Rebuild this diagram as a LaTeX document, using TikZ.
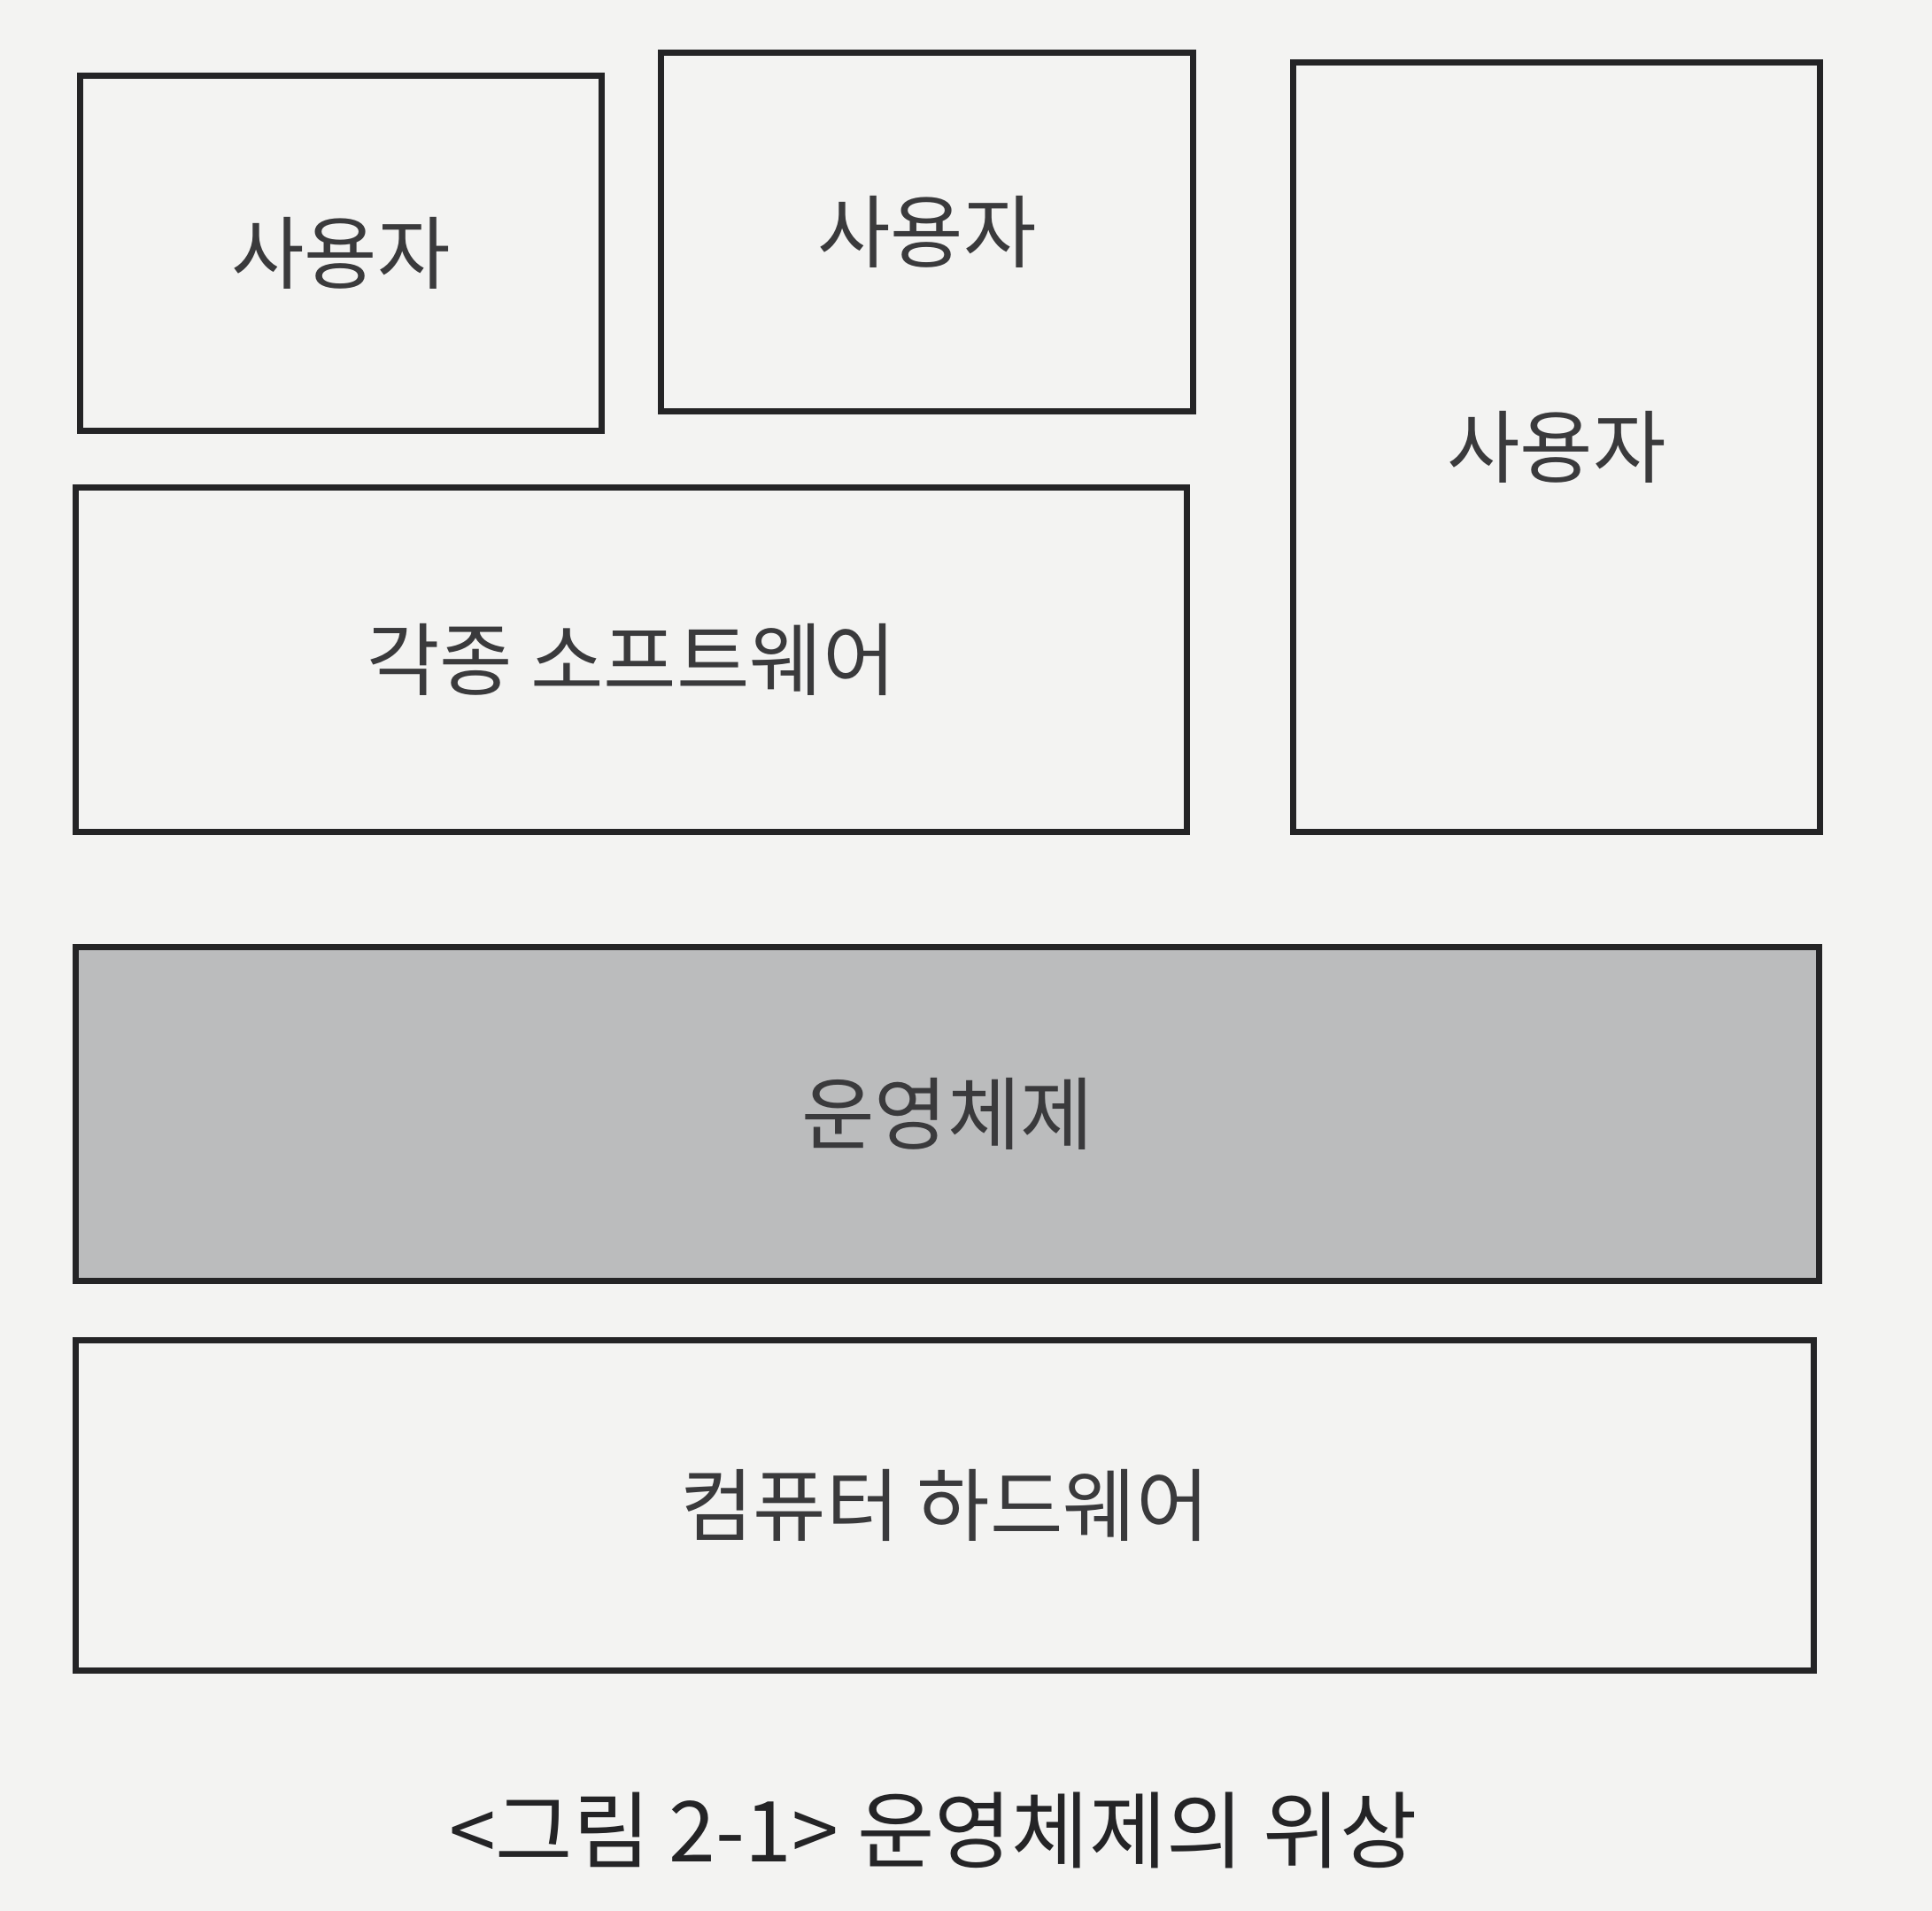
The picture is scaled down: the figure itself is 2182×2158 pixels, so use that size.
\documentclass[tikz,border=0pt]{standalone}
\usepackage{fontspec}
\setmainfont{Noto Sans CJK KR}
\usepackage{tikz}

\definecolor{paper}{RGB}{243,243,242}
\definecolor{ink}{RGB}{36,36,38}
\definecolor{osgray}{RGB}{187,188,189}

\begin{document}
\begin{tikzpicture}[
    x=0.01cm, y=-0.01cm,
    layer/.style={rectangle, draw=ink, line width=2pt, align=center, text=ink!90, inner sep=0pt, font=\fontsize{25.5}{30}\selectfont},
    caption/.style={text=ink, inner sep=0pt, font=\fontsize{27}{32}\selectfont}
]

% Paper
\fill[paper] (0,0) rectangle (2182,2158);

% Users and software
\node[layer, minimum width=5.89cm, minimum height=4.01cm] (user1) at (385,286) {사용자};
\node[layer, minimum width=6.00cm, minimum height=4.04cm] (user2) at (1047,262) {사용자};
\node[layer, minimum width=5.95cm, minimum height=8.68cm] (user3) at (1758,505) {사용자};
\node[layer, minimum width=12.54cm, minimum height=3.89cm] (soft) at (713,745) {각종 소프트웨어};

% Operating system and hardware
\node[layer, fill=osgray, minimum width=19.67cm, minimum height=3.76cm] (os) at (1070,1258) {운영체제};
\node[layer, minimum width=19.62cm, minimum height=3.73cm] (hw) at (1067,1700) {컴퓨터 하드웨어};

% Caption
\node[caption] (cap) at (1054,2067) {<그림 2-1> 운영체제의 위상};

\end{tikzpicture}
\end{document}
